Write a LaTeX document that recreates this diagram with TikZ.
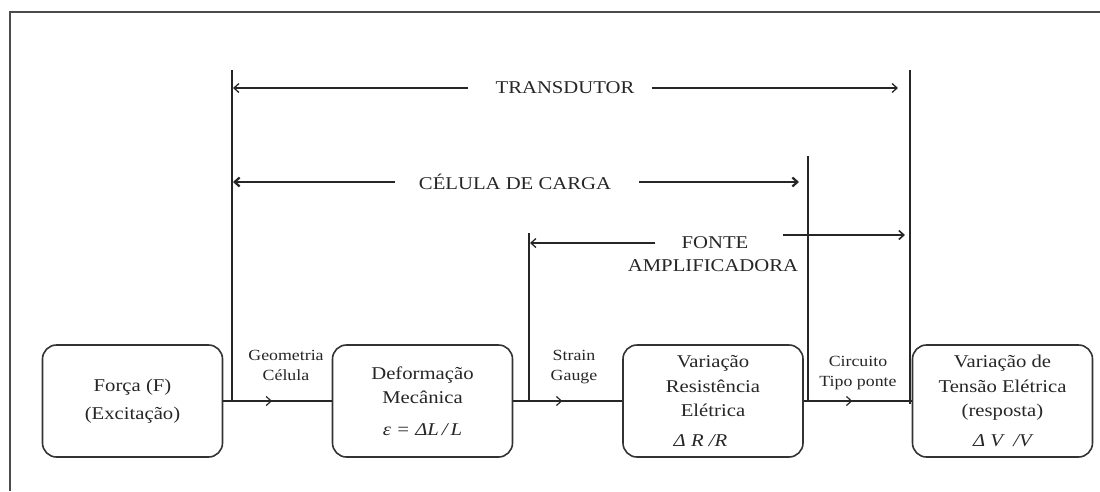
\documentclass[tikz,border=0pt]{standalone}
\usepackage{fontspec}
\setmainfont[FakeStretch=1.15]{Liberation Serif}
\usetikzlibrary{arrows.meta,decorations.markings}
\begin{document}
\begin{tikzpicture}[x=1pt,y=-1pt,
  blk/.style={draw=black!80, line width=1.6pt, rounded corners=14pt,
    minimum width=180pt, minimum height=112pt, align=center, inner sep=0pt,
    text=black!85, font=\fontsize{18}{24.5}\selectfont},
  lbl/.style={align=center, inner sep=0pt, text=black!85,
    font=\fontsize{15.5}{20}\selectfont},
  captxt/.style={inner sep=0pt, text=black!85, font=\fontsize{18}{22}\selectfont},
  flow/.style={line width=1.3pt, draw=black!85, postaction={decorate},
    decoration={markings, mark=at position 0.45 with
      {\arrow{Straight Barb[length=5pt,width=9pt,line width=1.2pt]}}}},
  span/.style={line width=1.3pt, draw=black!85,
    -{Straight Barb[length=5pt,width=9pt]}},
  bar/.style={line width=1.8pt, draw=black!85}]
\useasboundingbox (0,0) rectangle (1100,491);
% frame
\draw[line width=1.8pt, black!70] (10,491) -- (10,12) -- (1100,12);

% blocks
\node[blk] (f) at (132.5,401) {Força (F)\\[4pt](Excitação)};
\node[blk] (d) at (422.5,401) {Deformação\\Mecânica\\[7pt]{\itshape ε = ΔL\,/\,L}};
\node[blk] (r) at (713,401) {Variação\\Resistência\\Elétrica\\[5pt]\hspace*{-25pt}{\itshape Δ R /R}};
\node[blk] (v) at (1002.5,401) {Variação de\\Tensão Elétrica\\(resposta)\\[5pt]{\itshape Δ V \ /V}};

% flow connectors
\draw[flow] (f.east) -- (d.west);
\draw[flow] (d.east) -- (r.west);
\draw[flow] (r.east) -- (v.west);

% connector labels
\node[lbl] (g) at (286,365) {Geometria\\Célula};
\node[lbl] (s) at (574,367) {Strain\\Gauge};
\node[lbl] (c) at (858,373) {Circuito\\Tipo ponte};

% vertical boundary bars
\coordinate (v1t) at (232,70);  \coordinate (v1b) at (232,402);
\coordinate (v2t) at (529,233); \coordinate (v2b) at (529,402);
\coordinate (v3t) at (808,156); \coordinate (v3b) at (808,402);
\coordinate (v4t) at (910,70);  \coordinate (v4b) at (910,404);
\draw[bar] (v1t) -- (v1b);
\draw[bar] (v2t) -- (v2b);
\draw[bar] (v3t) -- (v3b);
\draw[bar] (v4t) -- (v4b);

% TRANSDUTOR
\node[captxt] (tr) at (565,88) {TRANSDUTOR};
\coordinate (trL) at (233,88); \coordinate (trR) at (898,88);
\draw[span, shorten <=27pt] (tr.west) -- (trL);
\draw[span, shorten <=17pt] (tr.east) -- (trR);

% CELULA DE CARGA
\node[captxt] (cc) at (515,182) {CÉLULA DE CARGA};
\coordinate (ccL) at (233,182); \coordinate (ccR) at (799,182);
\draw[span, line width=2.2pt, shorten <=24pt] (cc.west) -- (ccL);
\draw[span, line width=2.2pt, shorten <=28pt] (cc.east) -- (ccR);

% FONTE AMPLIFICADORA
\node[captxt] (fo) at (715,243) {FONTE};
\node[captxt] (am) at (713,266) {AMPLIFICADORA};
\coordinate (foL) at (530,243);
\coordinate (foS) at (783,235); \coordinate (foR) at (905,235);
\draw[span, shorten <=26pt] (fo.west) -- (foL);
\draw[span, line width=1.6pt] (foS) -- (foR);
\end{tikzpicture}
\end{document}
